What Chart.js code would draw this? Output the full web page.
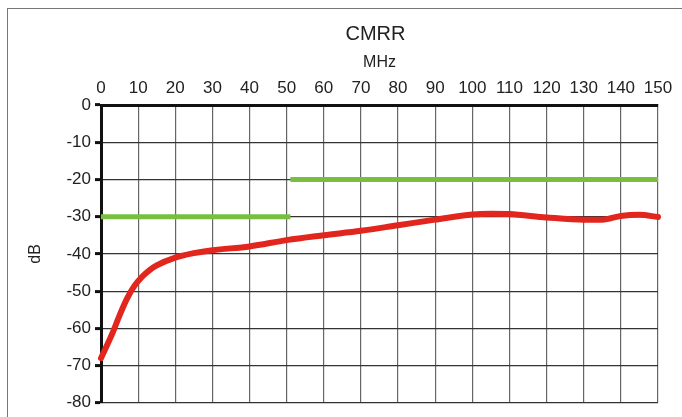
<!DOCTYPE html>
<html>
<head>
<meta charset="utf-8">
<script src="https://cdn.jsdelivr.net/npm/chart.js@4/dist/chart.umd.min.js"></script>
<style>
    body { margin: 0; background: #fff; }
    #wrap { position: relative; width: 682px; height: 417px; }
    #frame { position: absolute; left: 7px; top: 8px; right: -2px; bottom: -2px; border-left: 1.5px solid #777; border-top: 1.5px solid #777; pointer-events: none; }
</style>
</head>
<body>
<div id="wrap">
    <canvas id="chart" width="682" height="417"></canvas>
    <div id="frame"></div>
</div>
<script>
// measured curve (MHz, dB)
const freqs = [0, 3, 5, 7, 9, 11, 13, 15, 20, 25, 30, 40, 50, 60, 70, 80, 90, 100, 105, 110, 120, 130, 135, 140, 145, 150];
const cmrr = [-68, -61.5, -56.5, -52, -48.6, -46.2, -44.4, -43.1, -41, -39.8, -39, -38, -36.3, -35, -33.8, -32.3, -30.8, -29.4, -29.2, -29.3, -30.2, -30.8, -30.8, -29.8, -29.5, -30.1];

// limit lines
const limitLowX = [0, 51];
const limitLowY = [-30, -30];
const limitHighX = [51, 150];
const limitHighY = [-20, -20];

const xTicks = [0, 10, 20, 30, 40, 50, 60, 70, 80, 90, 100, 110, 120, 130, 140, 150];
const yTicks = [0, -10, -20, -30, -40, -50, -60, -70, -80];

function toPoints(xs, ys) {
    return xs.map((x, i) => ({ x: x, y: ys[i] }));
}

const mainTitle = {
    id: 'mainTitle',
    afterDraw(chart) {
        const ctx = chart.ctx;
        const area = chart.chartArea;
        ctx.save();
        ctx.fillStyle = '#222';
        ctx.font = '20px "Liberation Sans", Arial, sans-serif';
        ctx.textAlign = 'center';
        ctx.textBaseline = 'middle';
        ctx.fillText('CMRR', (area.left + area.right) / 2 - 4, 34);
        ctx.restore();
    }
};

const ctx = document.getElementById('chart').getContext('2d');
new Chart(ctx, {
    type: 'line',
    data: {
        datasets: [
            {
                data: toPoints(limitLowX, limitLowY),
                borderColor: '#78bf3f',
                borderWidth: 5,
                pointRadius: 0,
                borderCapStyle: 'butt'
            },
            {
                data: toPoints(limitHighX, limitHighY),
                borderColor: '#78bf3f',
                borderWidth: 5,
                pointRadius: 0,
                borderCapStyle: 'butt'
            },
            {
                data: toPoints(freqs, cmrr),
                borderColor: '#e2261d',
                borderWidth: 6,
                pointRadius: 0,
                cubicInterpolationMode: 'monotone',
                borderCapStyle: 'round'
            }
        ]
    },
    options: {
        responsive: false,
        animation: false,
        clip: false,
        layout: { padding: { left: 0, right: 24, top: 0, bottom: 12 } },
        plugins: {
            legend: { display: false },
            tooltip: { enabled: false }
        },
        scales: {
            x: {
                type: 'linear',
                position: 'top',
                min: 0,
                max: 150,
                afterBuildTicks: function(scale) {
                    scale.ticks = xTicks.map(v => ({ value: v }));
                },
                afterFit: function(scale) {
                    scale.height = 105;
                },
                border: { color: '#111', width: 3 },
                grid: { color: '#666', lineWidth: 1.2, tickLength: 0 },
                ticks: {
                    color: '#222',
                    padding: 6,
                    maxRotation: 0,
                    autoSkip: false,
                    font: { family: '"Liberation Sans", Arial, sans-serif', size: 17 }
                },
                title: {
                    display: true,
                    text: 'MHz',
                    color: '#222',
                    padding: { top: 53, bottom: 0 },
                    font: { family: '"Liberation Sans", Arial, sans-serif', size: 16 }
                }
            },
            y: {
                type: 'linear',
                min: -80,
                max: 0,
                afterBuildTicks: function(scale) {
                    scale.ticks = yTicks.map(v => ({ value: v }));
                },
                afterFit: function(scale) {
                    scale.width = 101;
                },
                border: { color: '#111', width: 3 },
                grid: { color: '#333', lineWidth: 1.2, tickLength: 6, tickColor: '#111', tickWidth: 3 },
                ticks: {
                    color: '#222',
                    padding: 4,
                    font: { family: '"Liberation Sans", Arial, sans-serif', size: 17 }
                },
                title: {
                    display: true,
                    text: 'dB',
                    color: '#222',
                    padding: { top: 26, bottom: 0 },
                    font: { family: '"Liberation Sans", Arial, sans-serif', size: 16 }
                }
            }
        }
    },
    plugins: [mainTitle]
});
</script>
</body>
</html>
